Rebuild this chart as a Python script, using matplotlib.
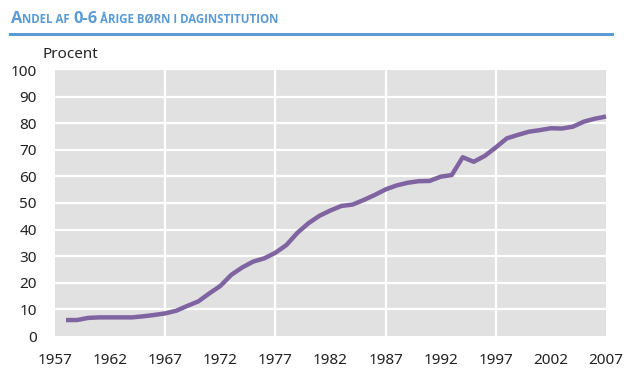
import matplotlib
matplotlib.use('Agg')
import matplotlib.pyplot as plt

years = list(range(1958, 2008))
share = [6.0, 6.0, 6.8, 7.0, 7.0, 7.0, 7.0, 7.4, 7.9, 8.5,
         9.5, 11.3, 13.0, 16.0, 18.8, 23.0, 25.8, 28.0, 29.2, 31.3,
         34.2, 38.8, 42.4, 45.2, 47.2, 48.9, 49.4, 51.1, 53.0, 55.1,
         56.6, 57.6, 58.2, 58.3, 59.9, 60.5, 67.2, 65.5, 67.7, 70.9,
         74.3, 75.6, 76.8, 77.4, 78.1, 78.0, 78.7, 80.6, 81.7, 82.5]
xticks = [1957, 1962, 1967, 1972, 1977, 1982, 1987, 1992, 1997, 2002, 2007]
yticks = list(range(0, 101, 10))
vgrid = [1967, 1977, 1987, 1997]

# title pieces: (text, size) to fake small caps
title_parts = [('A', 11.8), ('NDEL AF ', 8.3), ('0-6', 11.8), (' ÅRIGE BØRN I DAGINSTITUTION', 8.3)]

W, H = 639, 385
fig = plt.figure(figsize=(W / 100, H / 100), dpi=100)
fig.set_facecolor('white')
ax = fig.add_axes([55 / W, (H - 336) / H, (606 - 55) / W, (336 - 70) / H])
ax.set_facecolor('#e1e1e1')

for y in yticks[1:-1]:
    ax.axhline(y, color='white', lw=1.6, zorder=1)
for x in vgrid:
    ax.axvline(x, color='white', lw=1.6, zorder=1)

ax.plot(years, share, color='#8064a2', lw=3.2, solid_capstyle='butt',
        solid_joinstyle='round', zorder=3, clip_on=False)

ax.set_xlim(1957, 2006.8)
ax.set_ylim(0, 100)
ax.set_xticks(xticks)
ax.set_yticks(yticks)
ax.tick_params(length=0, labelsize=11)
ax.tick_params(axis='y', pad=13)
ax.tick_params(axis='x', pad=12)
for lab in ax.get_xticklabels() + ax.get_yticklabels():
    lab.set_fontfamily('Noto Sans')
    lab.set_color('#222222')
for s in ax.spines.values():
    s.set_visible(False)

fig.text(43 / W, 1 - 55 / H, 'Procent', fontsize=11, family='Noto Sans',
         color='#222222', va='center', ha='left')

# title with small caps effect
fig.canvas.draw()
renderer = fig.canvas.get_renderer()
xpos = 11
for txt, size in title_parts:
    t = fig.text(xpos / W, 1 - 23 / H, txt, fontsize=size, family='Open Sans',
                 weight='bold', color='#5b9bd5', va='baseline', ha='left')
    bb = t.get_window_extent(renderer)
    xpos += bb.width

fig.add_artist(plt.Line2D([10 / W, 612 / W], [1 - 34 / H, 1 - 34 / H],
                          color='#5b9bd5', lw=2.2))

fig.savefig('out.png', dpi=100)
